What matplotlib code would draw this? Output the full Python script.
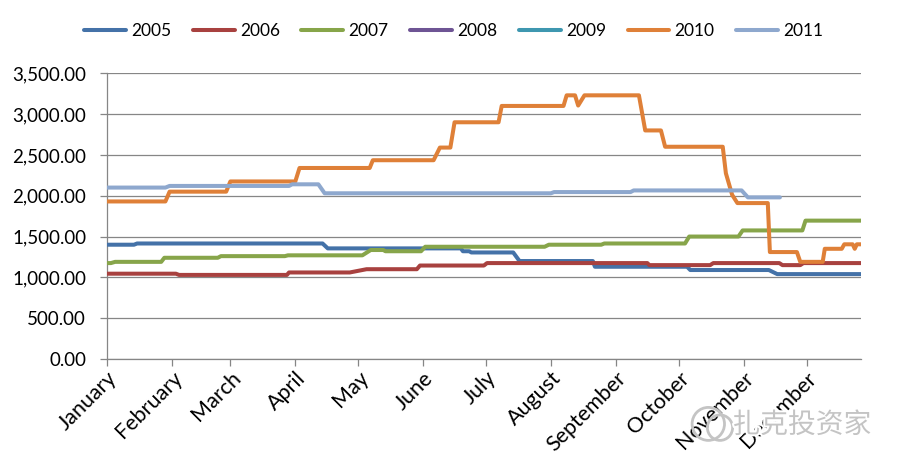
import matplotlib
matplotlib.use("Agg")
import matplotlib.pyplot as plt
from matplotlib import font_manager
import matplotlib.patheffects as pe
from matplotlib.ticker import FuncFormatter
from matplotlib.patches import Ellipse

# ---------------- data ----------------
years = ["2005", "2006", "2007", "2008", "2009", "2010", "2011"]
months = ["January", "February", "March", "April", "May", "June", "July",
          "August", "September", "October", "November", "December"]
month_start_days = [0, 31, 59, 90, 120, 151, 181, 212, 243, 273, 304, 334]

# day-of-year (0 = Jan 1) and values
d2005 = [0, 13, 14.5, 103, 105.5, 169, 170, 173, 174, 194, 197, 232, 233, 277, 278.5, 316, 320, 360]
v2005 = [1400, 1400, 1415, 1415, 1355, 1355, 1320, 1320, 1305, 1305, 1200, 1200, 1130, 1130, 1090, 1090, 1040, 1040]

d2006 = [0, 33, 34.5, 86, 87, 116, 124, 148, 149.5, 180, 181.5, 258, 259, 288, 289.5, 321, 322.5, 331, 332.5, 360]
v2006 = [1045, 1045, 1030, 1030, 1060, 1060, 1100, 1100, 1145, 1145, 1175, 1175, 1150, 1150, 1175, 1175, 1150, 1150, 1175, 1175]

d2007 = [0, 2, 4, 26, 27.5, 53, 54.5, 85, 86.5, 122, 126, 132, 133, 150, 152, 209, 211, 236, 237.5,
         276, 278, 301.5, 303.5, 332, 333.5, 360]
v2007 = [1175, 1175, 1190, 1190, 1240, 1240, 1260, 1260, 1270, 1270, 1335, 1335, 1320, 1320, 1375, 1375,
         1400, 1400, 1415, 1415, 1500, 1500, 1575, 1575, 1695, 1695]

d2008 = []
v2008 = []
d2009 = []
v2009 = []

d2010 = [0, 28, 30, 57, 59, 90, 92, 125.5, 127, 156, 159, 164, 166, 187, 188.5, 218, 219.5, 223.5, 225,
         228, 254, 257, 264.5, 266.5, 294, 295.5, 298.5, 301, 315.5, 316.5, 329.4, 331, 341.7, 342.7,
         350.8, 352, 356, 357, 358, 360]
v2010 = [1930, 1930, 2050, 2050, 2175, 2175, 2340, 2340, 2435, 2435, 2590, 2590, 2900, 2900, 3100, 3100,
         3230, 3230, 3105, 3230, 3230, 2800, 2800, 2600, 2600, 2275, 2010, 1910, 1910, 1310, 1310, 1190,
         1190, 1350, 1350, 1405, 1405, 1350, 1405, 1405]

d2011 = [0, 28, 30, 87, 88.5, 101, 104, 212, 213.5, 250, 251.5, 303, 306, 321.3]
v2011 = [2100, 2100, 2120, 2120, 2140, 2140, 2030, 2030, 2045, 2045, 2065, 2065, 1980, 1980]

y_ticks = [0, 500, 1000, 1500, 2000, 2500, 3000, 3500]

colors = ["#4472A8", "#A8413F", "#87A54A", "#6E5494", "#3E97B0", "#DF8038", "#8EA8CE"]

# ---------------- fonts ----------------
avail = {f.name for f in font_manager.fontManager.ttflist}
base_font = "Lato" if "Lato" in avail else "DejaVu Sans"
plt.rcParams["font.family"] = [base_font, "DejaVu Sans"]

fig = plt.figure(figsize=(9, 4.71), dpi=100)
ax = fig.add_axes([0.1186, 0.2378, 0.9567 - 0.1186, 0.8444 - 0.2378])

series = [(d2005, v2005), (d2006, v2006), (d2007, v2007), (d2008, v2008),
          (d2009, v2009), (d2010, v2010), (d2011, v2011)]
order = [0, 1, 2, 3, 4, 6, 5]  # draw 2010 on top of 2011
handles = {}
for i in order:
    d, v = series[i]
    ln, = ax.plot(d, v, color=colors[i], lw=2.9, solid_capstyle="round",
                  solid_joinstyle="round", label=years[i], zorder=3 + i)
    handles[i] = ln

ax.set_xlim(0, 360)
ax.set_ylim(0, 3500)
ax.set_yticks(y_ticks)
ax.yaxis.set_major_formatter(FuncFormatter(lambda v, p: f"{v:,.2f}"))
ax.set_xticks(month_start_days)
ax.set_xticklabels(months, rotation=45, ha="right", va="top", rotation_mode="anchor")

gc = "#868686"
ax.grid(axis="y", color=gc, lw=0.9, zorder=1)
ax.set_axisbelow(True)
for s in ["top", "right"]:
    ax.spines[s].set_visible(False)
for s in ["left", "bottom"]:
    ax.spines[s].set_color(gc)
    ax.spines[s].set_linewidth(0.9)
ax.tick_params(axis="y", direction="out", length=4.8, width=0.9, color=gc, labelsize=13.5, pad=10)
ax.tick_params(axis="x", direction="out", length=4.8, width=0.9, color=gc, labelsize=15.5, pad=1.5)

leg = fig.legend([handles[i] for i in range(7)], years, loc="center", bbox_to_anchor=(0.504, 0.934),
                 ncol=7, frameon=False, fontsize=12.5, handlelength=2.4, handletextpad=0.3,
                 columnspacing=1.25)

# watermark
cjk = "Noto Sans CJK SC"
fig.text(0.968, 0.098, "扎克投资家", ha="right", va="center", fontsize=20, color="#C4C4C4",
         family=[cjk, "DejaVu Sans"],
         path_effects=[pe.withStroke(linewidth=3, foreground="white")], zorder=20)
fig.patches.append(Ellipse((0.787, 0.10), 0.036, 0.07, transform=fig.transFigure,
                           fill=False, ec="#C4C4C4", lw=2, zorder=20))
fig.patches.append(Ellipse((0.8, 0.092), 0.028, 0.054, transform=fig.transFigure,
                           fill=False, ec="#C4C4C4", lw=2, zorder=20))

fig.savefig("out.png", dpi=100)
